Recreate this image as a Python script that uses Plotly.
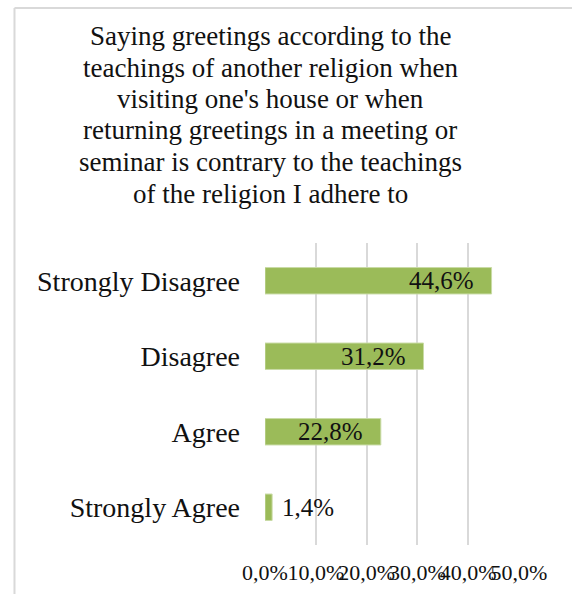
import plotly.graph_objects as go

# Survey responses (share of respondents)
categories = ["Strongly Agree", "Agree", "Disagree", "Strongly Disagree"]
shares = [0.014, 0.228, 0.312, 0.446]
tick_values = [0.0, 0.1, 0.2, 0.3, 0.4, 0.5]

title_lines = [
    "Saying greetings according to the",
    "teachings of another religion when",
    "visiting one's house or when",
    "returning greetings in a meeting or",
    "seminar is contrary to the teachings",
    "of the religion I adhere to",
]

W, H = 572, 594
L, R, T, B = 264.5, 52.5, 243, 49
FONT = "Liberation Serif"
BAR = "#9BBB59"
INK = "#111111"

fig = go.Figure(go.Bar(
    x=shares, y=categories, orientation="h",
    marker=dict(color=BAR, line=dict(color="#c9dba6", width=1)),
    width=0.35, hoverinfo="skip",
))

# value labels: inside the bar end when there is room, otherwise just past it
for cat, v in zip(categories, shares):
    inside = v > 0.1
    fig.add_annotation(
        x=v, y=cat, xref="x", yref="y",
        text=f"{v*100:.1f}%".replace(".", ","),
        showarrow=False,
        xanchor="right" if inside else "left",
        xshift=-16 if inside else 8,
        font=dict(family=FONT, size=25, color=INK),
    )

pw = W - L - R
ph = H - T - B

def px_x(p):
    return (p - L) / pw

def px_y(p):
    return 1 - (p - T) / ph

# chart title, one line per row at a fixed line pitch
for i, line in enumerate(title_lines):
    fig.add_annotation(
        text=line, xref="paper", yref="paper",
        x=px_x(270), y=px_y(36 + 31.5 * i), xanchor="center", yanchor="middle",
        showarrow=False,
        font=dict(family=FONT, size=27, color=INK),
    )

# chart frame (left and top edges)
fig.add_shape(type="line", xref="paper", yref="paper",
              x0=px_x(13), x1=px_x(13), y0=-1, y1=px_y(8),
              line=dict(color="#d9d9d9", width=2))
fig.add_shape(type="line", xref="paper", yref="paper",
              x0=px_x(13), x1=2, y0=px_y(8), y1=px_y(8),
              line=dict(color="#d9d9d9", width=2))

fig.update_layout(
    width=W, height=H,
    margin=dict(l=L, r=R, t=T, b=B, autoexpand=False),
    paper_bgcolor="white", plot_bgcolor="white",
    separators=",.",
    showlegend=False,
    font=dict(family=FONT, color=INK),
    xaxis=dict(range=[0, 0.5], tickvals=tick_values, tickformat=".1%",
               showgrid=True, gridcolor="#d9d9d9", gridwidth=1.5,
               zeroline=False, showline=False, tickangle=0,
               ticklabelstandoff=12,
               tickfont=dict(family=FONT, size=22, color=INK)),
    yaxis=dict(categoryorder="array", categoryarray=categories,
               range=[-0.5, 3.5], showgrid=False, zeroline=False,
               showline=False, ticklabelstandoff=24,
               tickfont=dict(family=FONT, size=28, color=INK)),
)

fig.write_html("out.html")
